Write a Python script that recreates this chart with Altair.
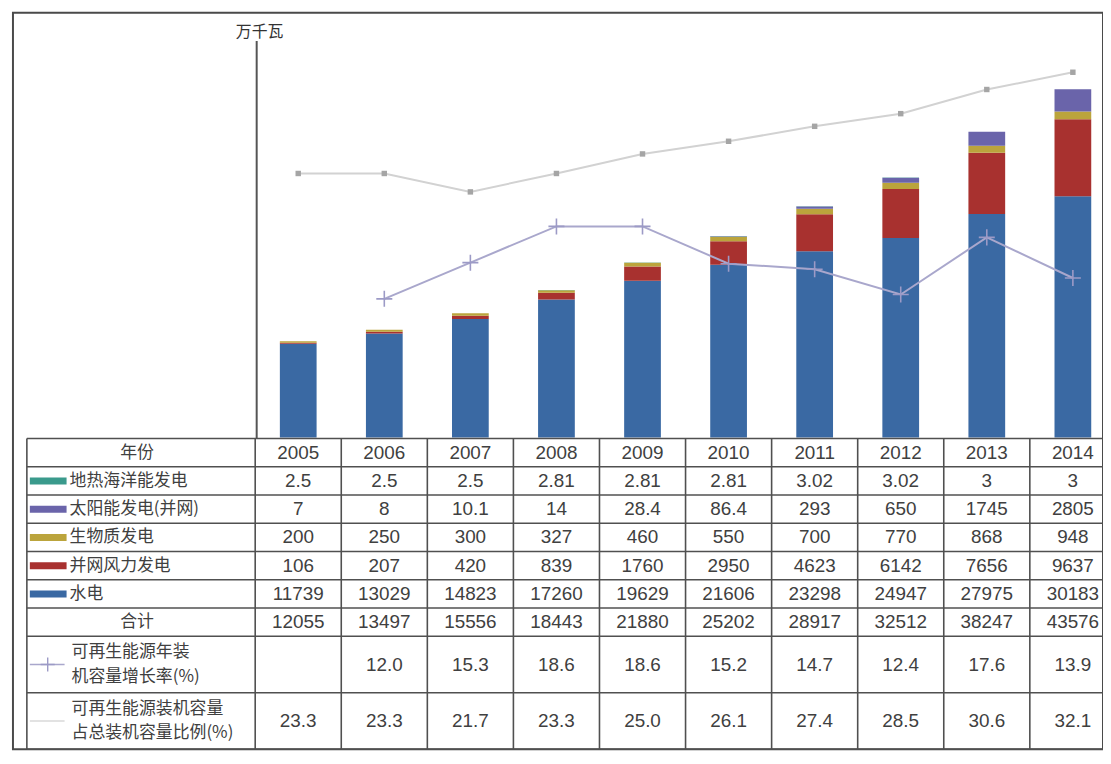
import altair as alt
import pandas as pd

# ---------------- data ----------------
years = ["2005", "2006", "2007", "2008", "2009", "2010", "2011", "2012", "2013", "2014"]
geothermal = [2.5, 2.5, 2.5, 2.81, 2.81, 2.81, 3.02, 3.02, 3, 3]
solar = [7, 8, 10.1, 14, 28.4, 86.4, 293, 650, 1745, 2805]
biomass = [200, 250, 300, 327, 460, 550, 700, 770, 868, 948]
wind = [106, 207, 420, 839, 1760, 2950, 4623, 6142, 7656, 9637]
hydro = [11739, 13029, 14823, 17260, 19629, 21606, 23298, 24947, 27975, 30183]
total = [12055, 13497, 15556, 18443, 21880, 25202, 28917, 32512, 38247, 43576]
growth = [None, 12.0, 15.3, 18.6, 18.6, 15.2, 14.7, 12.4, 17.6, 13.9]
share = [23.3, 23.3, 21.7, 23.3, 25.0, 26.1, 27.4, 28.5, 30.6, 32.1]

series_names = ["地热海洋能发电", "太阳能发电(并网)", "生物质发电", "并网风力发电", "水电"]
series_values = [geothermal, solar, biomass, wind, hydro]
series_colors = ["#3A9A8C", "#6A64AA", "#BBA43C", "#A8312F", "#3A69A3"]
growth_label = "可再生能源年装\n机容量增长率(%)"
share_label = "可再生能源装机容量\n占总装机容量比例(%)"
header_label = "年份"
total_label = "合计"
unit_label = "万千瓦"

# ---------------- layout (pixels, local to plot origin) ----------------
W, H = 1098, 742
X_COL = [244, 1111]          # year columns span
PLOT_RANGE = [428, 28]       # chart area (bottom -> top)
SLOT_RANGE = [429, 742]      # table area
N_SLOTS = 11
TXT = "#404040"
LINE = "#505050"
CJK = "Noto Sans CJK SC"

xscale = alt.Scale(domain=years, range=X_COL, paddingInner=0, paddingOuter=0)
slot_scale = alt.Scale(domain=[0, N_SLOTS], range=SLOT_RANGE, nice=False, zero=False)
color_scale = alt.Scale(domain=series_names, range=series_colors)

# ---------------- stacked bars ----------------
bar_rows = []
for order, (name, vals) in enumerate(reversed(list(zip(series_names, series_values)))):
    for y, v in zip(years, vals):
        bar_rows.append({"year": y, "type": name, "value": v, "ord": order})
bars_df = pd.DataFrame(bar_rows)

bars = alt.Chart(bars_df).mark_bar(width=37).encode(
    x=alt.X("year:N", scale=xscale, axis=None),
    y=alt.Y(
        "value:Q",
        stack="zero",
        scale=alt.Scale(domain=[0, 49660], range=PLOT_RANGE, nice=False),
        axis=alt.Axis(
            title=unit_label, titleAngle=0, titleAlign="center", titleBaseline="alphabetic",
            titleX=3, titleY=24, titleFont=CJK, titleFontSize=16, titleFontWeight="normal",
            titleColor="#333333", labels=False, ticks=False, grid=False,
            domain=True, domainColor="#555555", domainWidth=2, offset=-245,
        ),
    ),
    color=alt.Color("type:N", scale=color_scale, legend=None),
    order=alt.Order("ord:Q", sort="ascending"),
)

# ---------------- lines ----------------
line_df = pd.DataFrame({"year": years, "growth": growth, "share": share})

share_scale = alt.Scale(domain=[0.345, 34.86], range=PLOT_RANGE, nice=False, zero=False)
growth_scale = alt.Scale(domain=[-0.633, 35.53], range=PLOT_RANGE, nice=False, zero=False)

share_line = alt.Chart(line_df).mark_line(color="#D2D2D2", strokeWidth=2).encode(
    x=alt.X("year:N", scale=xscale, axis=None),
    y=alt.Y("share:Q", scale=share_scale, axis=None),
)
share_pts = alt.Chart(line_df).mark_point(
    shape="square", filled=True, color="#A5A5A5", size=30, opacity=1
).encode(
    x=alt.X("year:N", scale=xscale, axis=None),
    y=alt.Y("share:Q", scale=share_scale, axis=None),
)

growth_df = line_df.dropna(subset=["growth"])
growth_line = alt.Chart(growth_df).mark_line(color="#A9A7CC", strokeWidth=2).encode(
    x=alt.X("year:N", scale=xscale, axis=None),
    y=alt.Y("growth:Q", scale=growth_scale, axis=None),
)
PLUS = "M-1,0L1,0M0,-1L0,1"
growth_pts = alt.Chart(growth_df).mark_point(
    shape=PLUS, filled=False, color="#9C9AC6", size=260, strokeWidth=1.6, opacity=1
).encode(
    x=alt.X("year:N", scale=xscale, axis=None),
    y=alt.Y("growth:Q", scale=growth_scale, axis=None),
)

# ---------------- table ----------------
row_pos = {"header": 0.5, "total": 6.5, "growth": 8, "share": 10}
series_pos = [1.5, 2.5, 3.5, 4.5, 5.5]

cells = []
for i, y in enumerate(years):
    cells.append({"year": y, "pos": row_pos["header"], "txt": y})
    for p, vals in zip(series_pos, series_values):
        cells.append({"year": y, "pos": p, "txt": f"{vals[i]:g}"})
    cells.append({"year": y, "pos": row_pos["total"], "txt": f"{total[i]}"})
    if growth[i] is not None:
        cells.append({"year": y, "pos": row_pos["growth"], "txt": f"{growth[i]:.1f}"})
    cells.append({"year": y, "pos": row_pos["share"], "txt": f"{share[i]:.1f}"})
cells_df = pd.DataFrame(cells)

cell_text = alt.Chart(cells_df).mark_text(
    font="Liberation Sans", fontSize=19, color=TXT, baseline="middle", align="center"
).encode(
    x=alt.X("year:N", scale=xscale, axis=None),
    y=alt.Y("pos:Q", scale=slot_scale, axis=None),
    text="txt:N",
)

# horizontal grid lines
h_df = pd.DataFrame({"b": [0, 1, 2, 3, 4, 5, 6, 7, 9, 11]})
hlines = alt.Chart(h_df).mark_rule(color=LINE, strokeWidth=1.6).encode(
    x=alt.value(14), x2=alt.value(1111),
    y=alt.Y("b:Q", scale=slot_scale, axis=None),
)
# vertical grid lines at each year column start
v_df = pd.DataFrame({"year": years, "y0": 0, "y1": N_SLOTS})
vlines = alt.Chart(v_df).mark_rule(color=LINE, strokeWidth=1.6).encode(
    x=alt.X("year:N", scale=xscale, axis=None, bandPosition=0),
    y=alt.Y("y0:Q", scale=slot_scale, axis=None),
    y2="y1:Q",
)
left_df = pd.DataFrame({"y0": [0], "y1": [N_SLOTS]})
left_border = alt.Chart(left_df).mark_rule(color=LINE, strokeWidth=1.6).encode(
    x=alt.value(14),
    y=alt.Y("y0:Q", scale=slot_scale, axis=None),
    y2="y1:Q",
)

# row labels
centered_df = pd.DataFrame({"pos": [row_pos["header"], row_pos["total"]],
                            "txt": [header_label, total_label]})
centered_labels = alt.Chart(centered_df).mark_text(
    font=CJK, fontSize=17, color=TXT, baseline="middle", align="center"
).encode(
    x=alt.value(125),
    y=alt.Y("pos:Q", scale=slot_scale, axis=None),
    text="txt:N",
)

series_df = pd.DataFrame({"pos": series_pos, "type": series_names})
series_labels = alt.Chart(series_df).mark_text(
    font=CJK, fontSize=17, color=TXT, baseline="middle", align="left"
).encode(
    x=alt.value(57),
    y=alt.Y("pos:Q", scale=slot_scale, axis=None),
    text="type:N",
)
swatches = alt.Chart(series_df).mark_rule(strokeWidth=7).encode(
    x=alt.value(17), x2=alt.value(54),
    y=alt.Y("pos:Q", scale=slot_scale, axis=None),
    color=alt.Color("type:N", scale=color_scale, legend=None),
)

multi_df = pd.DataFrame({"pos": [row_pos["growth"], row_pos["share"]],
                         "txt": [growth_label, share_label]})
multi_labels = alt.Chart(multi_df).mark_text(
    font=CJK, fontSize=17, color=TXT, baseline="middle", align="left",
    lineBreak="\n", lineHeight=25, dy=-12.5,
).encode(
    x=alt.value(59),
    y=alt.Y("pos:Q", scale=slot_scale, axis=None),
    text="txt:N",
)

g_key_df = pd.DataFrame({"pos": [row_pos["growth"]]})
growth_key = alt.Chart(g_key_df).mark_rule(color="#A9A7CC", strokeWidth=1.5).encode(
    x=alt.value(17), x2=alt.value(52),
    y=alt.Y("pos:Q", scale=slot_scale, axis=None),
)
growth_key_pt = alt.Chart(g_key_df).mark_point(
    shape=PLUS, filled=False, color="#9C9AC6", size=200, strokeWidth=1.4, opacity=1
).encode(
    x=alt.value(35),
    y=alt.Y("pos:Q", scale=slot_scale, axis=None),
)
s_key_df = pd.DataFrame({"pos": [row_pos["share"]]})
share_key = alt.Chart(s_key_df).mark_rule(color="#D8D8D8", strokeWidth=1.5).encode(
    x=alt.value(17), x2=alt.value(52),
    y=alt.Y("pos:Q", scale=slot_scale, axis=None),
)

chart = alt.layer(
    bars, share_line, share_pts, growth_line, growth_pts,
    hlines, vlines, left_border, cell_text,
    centered_labels, series_labels, swatches, multi_labels,
    growth_key, growth_key_pt, share_key,
).resolve_scale(
    y="independent"
).properties(
    width=W, height=H,
    autosize=alt.AutoSizeParams(type="none"),
    padding={"left": 5, "top": 2, "right": 0, "bottom": 2},
    background="white",
).configure_view(
    stroke="#4A4A4A", strokeWidth=2
)

chart.save("out.html", embed_options={"renderer": "svg", "actions": False})
